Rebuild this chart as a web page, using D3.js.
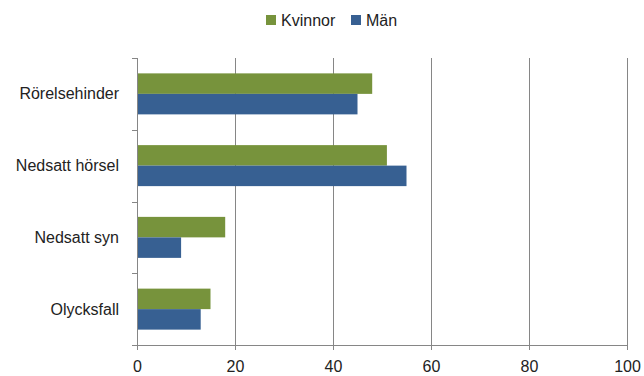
<!DOCTYPE html>
<html>
<head>
<meta charset="utf-8">
<script src="https://cdn.jsdelivr.net/npm/d3@7"></script>
<style>
  body { margin: 0; background: #fff; }
  text { font-family: "Liberation Sans", "DejaVu Sans", sans-serif; fill: #222; }
</style>
</head>
<body>
<div class="chart"></div>
<script>
// data
const categories = ["Rörelsehinder", "Nedsatt hörsel", "Nedsatt syn", "Olycksfall"];
const kvinnor = [48, 51, 18, 15];
const man = [45, 55, 9, 13];
const seriesNames = ["Kvinnor", "Män"];
const xTicks = [0, 20, 40, 60, 80, 100];

const width = 644, height = 376,
    margin = ({ top: 58, right: 17, bottom: 31, left: 137 }),
    colors = ["#77933c", "#376092"],
    gridColor = "#868686";

const svg = d3.select(".chart").append("svg")
    .attr("width", width)
    .attr("height", height);

const x = d3.scaleLinear()
    .domain([0, 100])
    .range([margin.left, width - margin.right]);

const y = d3.scaleBand()
    .domain(categories)
    .range([margin.top, height - margin.bottom]);

const inner = d3.scaleBand()
    .domain(seriesNames)
    .range([0, y.bandwidth()])
    .paddingOuter(0.75)
    .paddingInner(0);

// gridlines
svg.append("g")
    .selectAll("line")
    .data(xTicks.slice(1))
    .join("line")
    .attr("x1", d => x(d)).attr("x2", d => x(d))
    .attr("y1", margin.top).attr("y2", height - margin.bottom)
    .attr("stroke", gridColor)
    .attr("shape-rendering", "crispEdges");

// bars
const rows = categories.map((c, i) => ({ cat: c, values: [kvinnor[i], man[i]] }));
svg.append("g")
    .selectAll("g")
    .data(rows)
    .join("g")
    .attr("transform", d => `translate(0,${y(d.cat)})`)
    .selectAll("rect")
    .data(d => d.values.map((v, j) => ({ name: seriesNames[j], value: v, j })))
    .join("rect")
    .attr("x", x(0))
    .attr("y", d => inner(d.name))
    .attr("width", d => x(d.value) - x(0))
    .attr("height", inner.bandwidth())
    .attr("fill", d => colors[d.j]);

// x axis
const xAxis = g => g
    .attr("transform", `translate(0,${height - margin.bottom})`)
    .call(d3.axisBottom(x).tickValues(xTicks).tickSize(5).tickPadding(11).tickFormat(d3.format("d")))
    .call(g => g.select(".domain").attr("stroke", gridColor).attr("d", `M${x(0)},0.5H${x(100)}`))
    .call(g => g.selectAll(".tick line").attr("stroke", gridColor))
    .call(g => g.selectAll("text").attr("font-size", 16).attr("fill", "#222")
        .attr("font-family", "Liberation Sans, sans-serif"));

svg.append("g").call(xAxis);

// y axis: line with ticks at band boundaries
const boundaries = categories.map(c => y(c)).concat([y.range()[1]]);
const yAxisG = svg.append("g");
yAxisG.append("line")
    .attr("x1", x(0)).attr("x2", x(0))
    .attr("y1", margin.top).attr("y2", height - margin.bottom)
    .attr("stroke", gridColor)
    .attr("shape-rendering", "crispEdges");
yAxisG.selectAll(".bt")
    .data(boundaries)
    .join("line")
    .attr("class", "bt")
    .attr("x1", x(0) - 5).attr("x2", x(0))
    .attr("y1", d => Math.round(d) + 0.5).attr("y2", d => Math.round(d) + 0.5)
    .attr("stroke", gridColor);
yAxisG.selectAll("text")
    .data(categories)
    .join("text")
    .attr("x", x(0) - 18)
    .attr("y", d => y(d) + y.bandwidth() / 2)
    .attr("dy", "0.35em")
    .attr("text-anchor", "end")
    .attr("font-size", 16)
    .text(d => d);

// legend
const legend = svg.append("g").attr("transform", "translate(0,20)");
const legendX = [266, 351];
seriesNames.forEach((n, i) => {
    legend.append("rect")
        .attr("x", legendX[i]).attr("y", -5)
        .attr("width", 10).attr("height", 10)
        .attr("fill", colors[i]);
    legend.append("text")
        .attr("x", legendX[i] + 15).attr("y", 0)
        .attr("dy", "0.35em")
        .attr("font-size", 16)
        .text(n);
});
</script>
</body>
</html>
